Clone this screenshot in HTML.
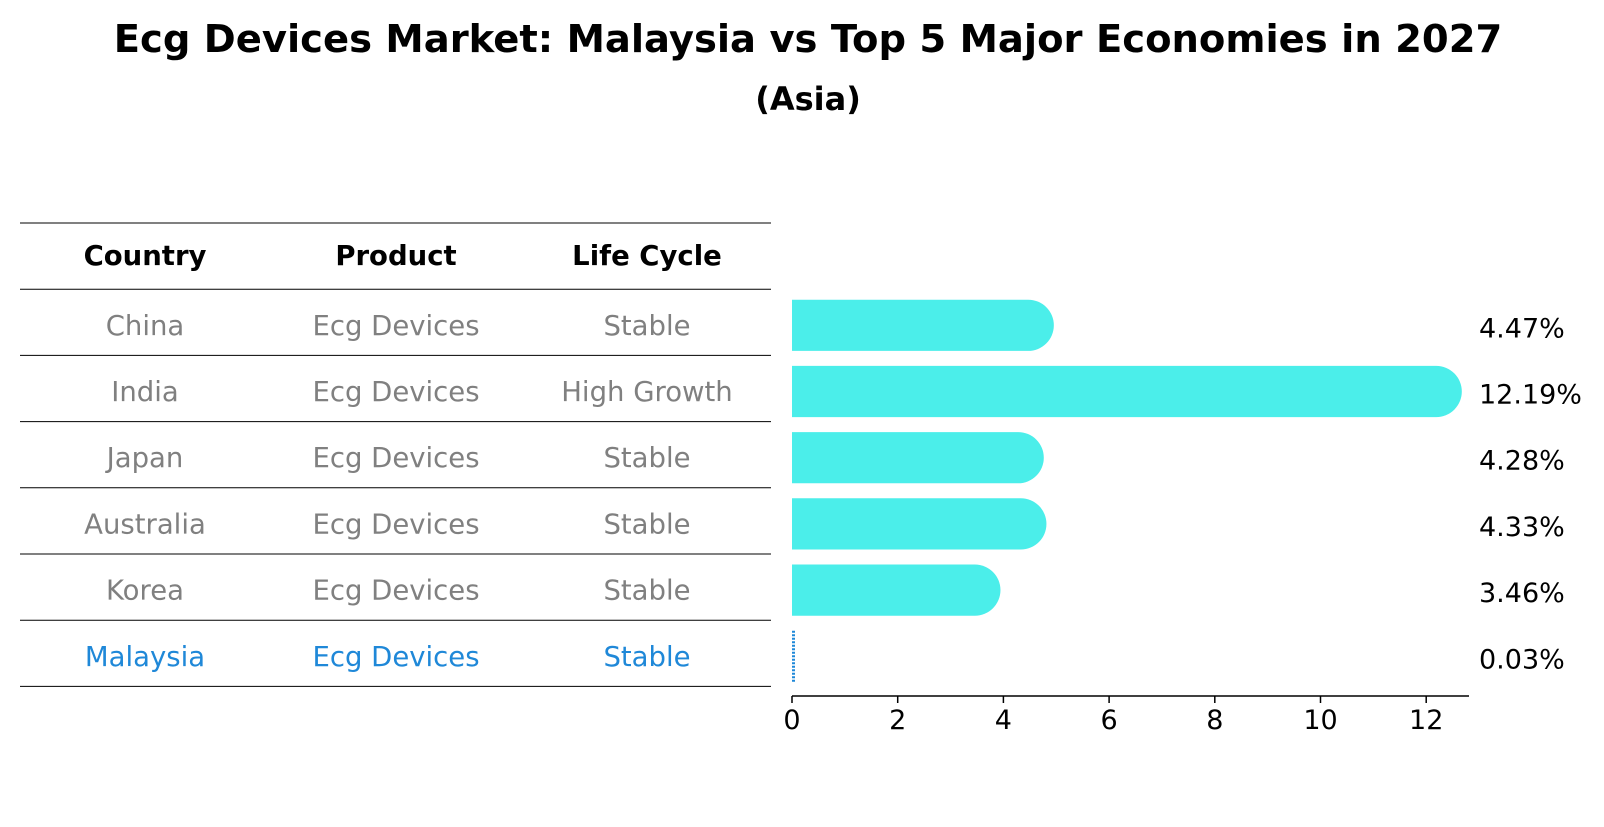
<!DOCTYPE html>
<html><head><meta charset="utf-8"><style>
body{margin:0;background:#fff;font-family:"DejaVu Sans","Liberation Sans",sans-serif;}
</style></head><body>
<svg width="1604" height="823" xmlns="http://www.w3.org/2000/svg" font-family="DejaVu Sans, Liberation Sans, sans-serif">
<text x="808" y="52" text-anchor="middle" font-size="38.5" font-weight="bold">Ecg Devices Market: Malaysia vs Top 5 Major Economies in 2027</text>
<text x="808" y="110" text-anchor="middle" font-size="32" font-weight="bold">(Asia)</text>
<g id="table"></g>
<g id="bars"></g>
<g id="axis"></g>
</svg>
<script>
const countries=["China","India","Japan","Australia","Korea","Malaysia"];
const products=["Ecg Devices","Ecg Devices","Ecg Devices","Ecg Devices","Ecg Devices","Ecg Devices"];
const lifeCycles=["Stable","High Growth","Stable","Stable","Stable","Stable"];
const values=[4.47,12.19,4.28,4.33,3.46,0.03];
const ticks=[0,2,4,6,8,10,12];
const NS="http://www.w3.org/2000/svg";
function mk(t,a,p){const e=document.createElementNS(NS,t);for(const k in a)e.setAttribute(k,a[k]);p.appendChild(e);return e;}
const x0=792,ppu=52.85,axisY=696;
const xs=v=>x0+v*ppu;
const rowY=i=>325.3+i*66.2;
const tbl=document.getElementById('table');
for(let i=0;i<=countries.length+1;i++){const y=223+i*66.2;
const l=mk('line',{x1:20,x2:771,y1:y,y2:y,stroke:'#000','stroke-width':1},tbl);

}
const cols=[145,396,647];
["Country","Product","Life Cycle"].forEach((h,j)=>{const t=mk('text',{x:cols[j],y:265,'text-anchor':'middle','font-size':27.5,'font-weight':'bold'},tbl);t.textContent=h;

});
countries.forEach((c,i)=>{const col=i===countries.length-1?'#1f88d8':'#808080';
[c,products[i],lifeCycles[i]].forEach((v,j)=>{const t=mk('text',{x:cols[j],y:rowY(i)+9.5,'text-anchor':'middle','font-size':27.5,fill:col},tbl);t.textContent=v;

});});
const bars=document.getElementById('bars');
const hh=25.6;
values.forEach((v,i)=>{const y=rowY(i);
if(v<0.1){const b=mk('line',{x1:x0+1.5,x2:x0+1.5,y1:y-hh,y2:y+hh,stroke:'#1f88d8','stroke-width':3,'stroke-dasharray':'2 1.5'},bars);

}
else{const w=xs(v)-x0;const b=mk('path',{d:`M${x0},${y-hh}H${x0+w}A${hh},${hh} 0 0 1 ${x0+w},${y+hh}H${x0}Z`,fill:'#4beeea'},bars);

}
const t=mk('text',{x:1479,y:y+12,'font-size':27},bars);t.textContent=v.toFixed(2)+'%';

});
const ax=document.getElementById('axis');
const al=mk('line',{x1:x0,x2:1469,y1:axisY,y2:axisY,stroke:'#000','stroke-width':1.5},ax);


ticks.forEach(v=>{const tl=mk('line',{x1:xs(v),x2:xs(v),y1:axisY,y2:axisY+7,stroke:'#000','stroke-width':1.5},ax);


const t=mk('text',{x:xs(v),y:axisY+33,'text-anchor':'middle','font-size':27},ax);t.textContent=v;

});
</script>
</body></html>
